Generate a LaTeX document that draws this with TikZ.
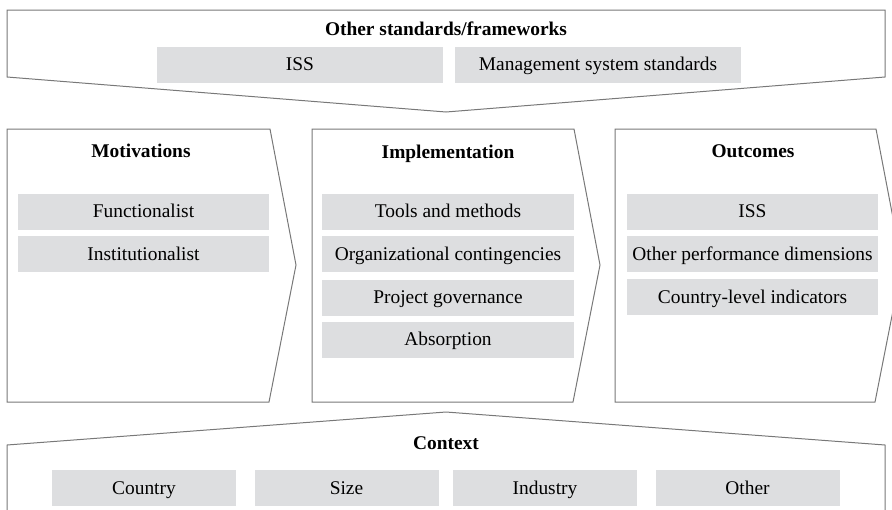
\documentclass[tikz,border=0pt]{standalone}
\usepackage{fontspec}
\setmainfont{Liberation Serif}
\usetikzlibrary{positioning}
\definecolor{itemgray}{RGB}{221, 222, 224}
\definecolor{edgegray}{RGB}{120, 120, 120}

\begin{document}
\begin{tikzpicture}[x=0.5pt, y=-0.5pt,
    frame/.style={draw=edgegray, line width=0.5pt, line join=miter},
    item/.style={rectangle, fill=itemgray, inner sep=0pt, minimum height=18pt,
                 text height=8pt, text depth=2pt,
                 font=\fontsize{9.7}{11.6}\selectfont},
    head/.style={font=\fontsize{9.7}{11.6}\selectfont\bfseries,
                 text height=8pt, text depth=2pt}]

    \useasboundingbox (0, 0) rectangle (892, 509);
    \clip (0, 0) rectangle (892, 509);

    % Frames
    \draw[frame] (7, 10) -- (885, 10) -- (885, 77) -- (446, 112) -- (7, 77) -- cycle;
    \draw[frame] (7, 129) -- (270, 129) -- (296, 265) -- (269, 402) -- (7, 402) -- cycle;
    \draw[frame] (312, 129) -- (574, 129) -- (600, 265) -- (573, 402) -- (312, 402) -- cycle;
    \draw[frame] (615, 129) -- (876, 129) -- (902, 265) -- (875, 402) -- (615, 402) -- cycle;
    \draw[frame] (7, 530) -- (7, 445) -- (446, 412) -- (885, 445) -- (885, 530);

    % Other standards/frameworks
    \node[head] (std) at (446, 29) {Other standards/frameworks};
    \node[item, minimum width=143pt] (stdiss) at (300, 64.5) {ISS};
    \node[item, minimum width=143pt] (stdmgmt) at (598, 64.5) {Management system standards};

    % Motivations
    \node[head] (mot) at (141, 151) {Motivations};
    \node[item, minimum width=125.5pt] (func) at (143.5, 211.5) {Functionalist};
    \node[item, minimum width=125.5pt] (inst) at (143.5, 254) {Institutionalist};

    % Implementation
    \node[head] (impl) at (448, 152) {Implementation};
    \node[item, minimum width=126pt] (tools) at (448, 211.5) {Tools and methods};
    \node[item, minimum width=126pt] (contin) at (448, 254) {Organizational contingencies};
    \node[item, minimum width=126pt] (gov) at (448, 297.5) {Project governance};
    \node[item, minimum width=126pt] (absorb) at (448, 339.5) {Absorption};

    % Outcomes
    \node[head] (out) at (753, 151) {Outcomes};
    \node[item, minimum width=125.5pt] (outiss) at (752.5, 211.5) {ISS};
    \node[item, minimum width=125.5pt] (perf) at (752.5, 254) {Other performance dimensions};
    \node[item, minimum width=125.5pt] (cntry) at (752.5, 297) {Country-level indicators};

    % Context
    \node[head] (ctx) at (446, 443) {Context};
    \node[item, minimum width=92pt] (country) at (144, 488) {Country};
    \node[item, minimum width=92pt] (size) at (346.5, 488) {Size};
    \node[item, minimum width=92pt] (industry) at (545, 488) {Industry};
    \node[item, minimum width=92pt] (other) at (747.5, 488) {Other};
\end{tikzpicture}
\end{document}
